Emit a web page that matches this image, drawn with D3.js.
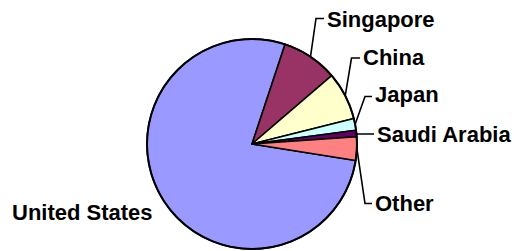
<!DOCTYPE html>
<html>
<head>
<meta charset="utf-8">
<script src="https://cdn.jsdelivr.net/npm/d3@7"></script>
<style>
  html, body { margin: 0; padding: 0; background: #fff; }
  svg { display: block; }
  text { font-family: "Liberation Sans", Arial, sans-serif; font-weight: bold; font-size: 22px; fill: #000; }
</style>
</head>
<body>
<svg id="chart" width="514" height="251"></svg>
<script>
// Data (share, %)
const categories = ["United States", "Singapore", "China", "Japan", "Saudi Arabia", "Other"];
const values = [77.6, 8.6, 7.4, 1.8, 1.0, 3.6];
const colors = ["#9999FF", "#993366", "#FFFFCC", "#CCFFFF", "#660066", "#FF8080"];

// Layout
const cx = 252, cy = 144, R = 105;
const startDeg = 99;
// label layout: text x, baseline y, elbow x (null = straight), leader y
const labelLayout = {
  "United States": { tx: 12, by: 220, ex: null, ly: null, noLeader: true },
  "Singapore":    { tx: 327, by: 26.5, ex: 316, ly: 18.5 },
  "China":        { tx: 363, by: 64.5, ex: 351.5, ly: 58 },
  "Japan":        { tx: 375, by: 102, ex: 365, ly: 96.5 },
  "Saudi Arabia": { tx: 377, by: 141.5, ex: null, ly: 134 },
  "Other":        { tx: 375, by: 211, ex: 365, ly: 203.5 }
};

const svg = d3.select("#chart");
const g = svg.append("g").attr("transform", `translate(${cx},${cy})`);

const data = categories.map((c, i) => ({ name: c, value: values[i], color: colors[i] }));
const pie = d3.pie().value(d => d.value).sort(null)
  .startAngle(startDeg * Math.PI / 180)
  .endAngle((startDeg + 360) * Math.PI / 180);
const arcs = pie(data);
const arc = d3.arc().innerRadius(0).outerRadius(R);

g.selectAll("path.slice").data(arcs).enter().append("path")
  .attr("class", "slice")
  .attr("d", arc)
  .attr("fill", d => d.data.color)
  .attr("stroke", "#000")
  .attr("stroke-width", 1.6)
  .attr("stroke-linejoin", "round");

g.append("circle").attr("r", R).attr("fill", "none").attr("stroke", "#000").attr("stroke-width", 2);

// leaders and labels
arcs.forEach(a => {
  const L = labelLayout[a.data.name];
  const mid = (a.startAngle + a.endAngle) / 2;
  const px = cx + R * Math.sin(mid), py = cy - R * Math.cos(mid);
  if (!L.noLeader) {
    const pts = [[px, py]];
    if (L.ex !== null) pts.push([L.ex, L.ly]);
    else pts.push([px, L.ly]);
    pts.push([L.tx - 3, L.ly]);
    svg.append("path")
      .attr("d", d3.line()(pts))
      .attr("fill", "none")
      .attr("stroke", "#000")
      .attr("stroke-width", 1.6);
  }
  svg.append("text").attr("x", L.tx).attr("y", L.by).text(a.data.name);
});
</script>
</body>
</html>
